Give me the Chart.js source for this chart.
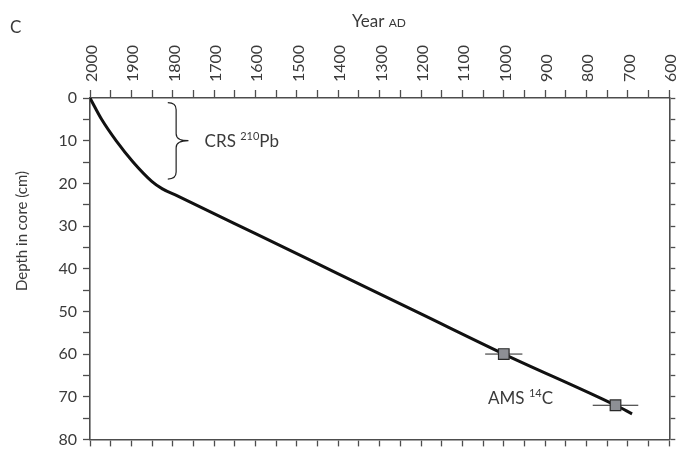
<!DOCTYPE html>
<html>
<head>
<meta charset="utf-8">
<script src="https://cdn.jsdelivr.net/npm/chart.js@4.4.1/dist/chart.umd.min.js"></script>
<style>
  html, body { margin: 0; padding: 0; background: #fff; }
  #wrap { width: 678px; height: 455px; }
</style>
</head>
<body>
<div id="wrap"><canvas id="chart" width="678" height="455"></canvas></div>
<script>
'use strict';

/* ─── Data ───────────────────────────────────────────────── */
// age-depth model
const curveYears  = [2000, 1972, 1937, 1896, 1850, 1825, 1790, 1600, 1400, 1200, 1000, 730, 690];
const curveDepths = [0, 5, 10, 15, 19.6, 21.3, 22.9, 31.8, 41.2, 50.6, 60, 72, 74];

// AMS 14C dated levels (+/- years)
const datedYears  = [1000, 730];
const datedDepths = [60, 72];
const datedErr    = [45, 55];

// labelled ticks
const yearLabels  = [2000, 1900, 1800, 1700, 1600, 1500, 1400, 1300, 1200, 1100, 1000, 900, 800, 700, 600];
const depthLabels = [0, 10, 20, 30, 40, 50, 60, 70, 80];

/* ─── Style ──────────────────────────────────────────────── */
const FONT = "Lato, 'Open Sans', sans-serif";
const TEXT = '#3a3a3a';
const AXIS = '#4d4d4d';

const curvePoints = curveYears.map((x, i) => ({ x, y: curveDepths[i] }));
const datedPoints = datedYears.map((x, i) => ({ x, y: datedDepths[i] }));
const errorSets = datedYears.map((x, i) => ({
  data: [{ x: x + datedErr[i], y: datedDepths[i] }, { x: x - datedErr[i], y: datedDepths[i] }],
  showLine: true,
  borderColor: '#222',
  borderWidth: 1,
  pointRadius: 0,
  order: 3,
}));

const gridOpts = (len) => ({
  drawOnChartArea: false,
  drawTicks: true,
  tickLength: len,
  tickWidth: 1.3,
  tickColor: AXIS,
});
const borderOpts = { display: true, color: AXIS, width: 1.6 };

// text that is not part of the axes
const annotate = {
  id: 'annotate',
  afterDraw(chart) {
    const { ctx } = chart;
    const x = chart.scales.x, y = chart.scales.y;
    ctx.save();
    ctx.fillStyle = TEXT;
    ctx.strokeStyle = '#222';
    ctx.textBaseline = 'alphabetic';

    // panel letter
    ctx.font = `17px ${FONT}`;
    ctx.textAlign = 'left';
    ctx.fillText('C', 10, 33);

    // axis title: Year AD (small caps)
    ctx.fillText('Year', 352, 27);
    let w = ctx.measureText('Year ').width;
    ctx.font = `12px ${FONT}`;
    ctx.fillText('AD', 352 + w, 27);

    // y title
    ctx.save();
    ctx.translate(27, 231);
    ctx.rotate(-Math.PI / 2);
    ctx.textAlign = 'center';
    ctx.font = `15px ${FONT}`;
    ctx.fillText('Depth in core (cm)', 0, 0);
    ctx.restore();

    // brace over the 210Pb section
    const xl = x.getPixelForValue(1812), xr = x.getPixelForValue(1762);
    const xm = (xl + xr) / 2 - 2;
    const yt = y.getPixelForValue(1.1), yb = y.getPixelForValue(19), ym = y.getPixelForValue(10);
    const r = 7;
    ctx.lineWidth = 1.2;
    ctx.beginPath();
    ctx.moveTo(xl, yt);
    ctx.quadraticCurveTo(xm, yt, xm, yt + r);
    ctx.lineTo(xm, ym - r);
    ctx.quadraticCurveTo(xm, ym, xr, ym);
    ctx.quadraticCurveTo(xm, ym, xm, ym + r);
    ctx.lineTo(xm, yb - r);
    ctx.quadraticCurveTo(xm, yb, xl, yb);
    ctx.stroke();

    // labels with superscripts
    const sup = (parts, px, py) => {
      let cx = px;
      parts.forEach(([t, small]) => {
        ctx.font = small ? `11px ${FONT}` : `17px ${FONT}`;
        ctx.fillText(t, cx, small ? py - 7 : py);
        cx += ctx.measureText(t).width;
      });
    };
    ctx.textAlign = 'left';
    sup([['CRS ', false], ['210', true], ['Pb', false]], x.getPixelForValue(1723), ym + 6);
    sup([['AMS ', false], ['14', true], ['C', false]], x.getPixelForValue(1038), y.getPixelForValue(70.4) + 6);
    ctx.restore();
  },
};

new Chart(document.getElementById('chart'), {
  type: 'scatter',
  data: {
    datasets: [
      {
        data: datedPoints,
        pointStyle: 'rect',
        pointRadius: 7.5,
        pointBackgroundColor: '#8d8f95',
        pointBorderColor: '#2a2a2a',
        pointBorderWidth: 1.2,
        order: 1,
      },
      {
        data: curvePoints,
        showLine: true,
        borderColor: '#111',
        borderWidth: 3,
        pointRadius: 0,
        cubicInterpolationMode: 'monotone',
        order: 2,
      },
      ...errorSets,
    ],
  },
  options: {
    responsive: false,
    animation: false,
    layout: { padding: 0 },
    plugins: { legend: { display: false }, tooltip: { enabled: false } },
    scales: {
      x: {
        type: 'linear',
        position: 'top',
        min: 600,
        max: 2000,
        reverse: true,
        afterFit: (s) => { s.height = 98; },
        grid: gridOpts(8),
        border: borderOpts,
        ticks: {
          stepSize: 50,
          autoSkip: false,
          minRotation: 90,
          maxRotation: 90,
          padding: 8,
          labelOffset: 21,
          color: TEXT,
          font: { family: FONT, size: 16 },
          callback: (v) => (yearLabels.includes(v) ? String(v) : ''),
        },
      },
      x2: {
        type: 'linear',
        position: 'bottom',
        min: 600,
        max: 2000,
        reverse: true,
        afterFit: (s) => { s.height = 7; },
        grid: gridOpts(7),
        border: borderOpts,
        ticks: { stepSize: 50, display: false },
      },
      y: {
        type: 'linear',
        position: 'left',
        min: 0,
        max: 80,
        reverse: true,
        afterFit: (s) => { s.width = 90; },
        grid: gridOpts(7),
        border: borderOpts,
        ticks: {
          stepSize: 5,
          autoSkip: false,
          padding: 6,
          color: TEXT,
          font: { family: FONT, size: 16 },
          callback: (v) => (depthLabels.includes(v) ? String(v) : ''),
        },
      },
      y2: {
        type: 'linear',
        position: 'right',
        min: 0,
        max: 80,
        reverse: true,
        afterFit: (s) => { s.width = 6; },
        grid: gridOpts(6),
        border: borderOpts,
        ticks: { stepSize: 5, display: false },
      },
    },
  },
  plugins: [annotate],
});
</script>
</body>
</html>
